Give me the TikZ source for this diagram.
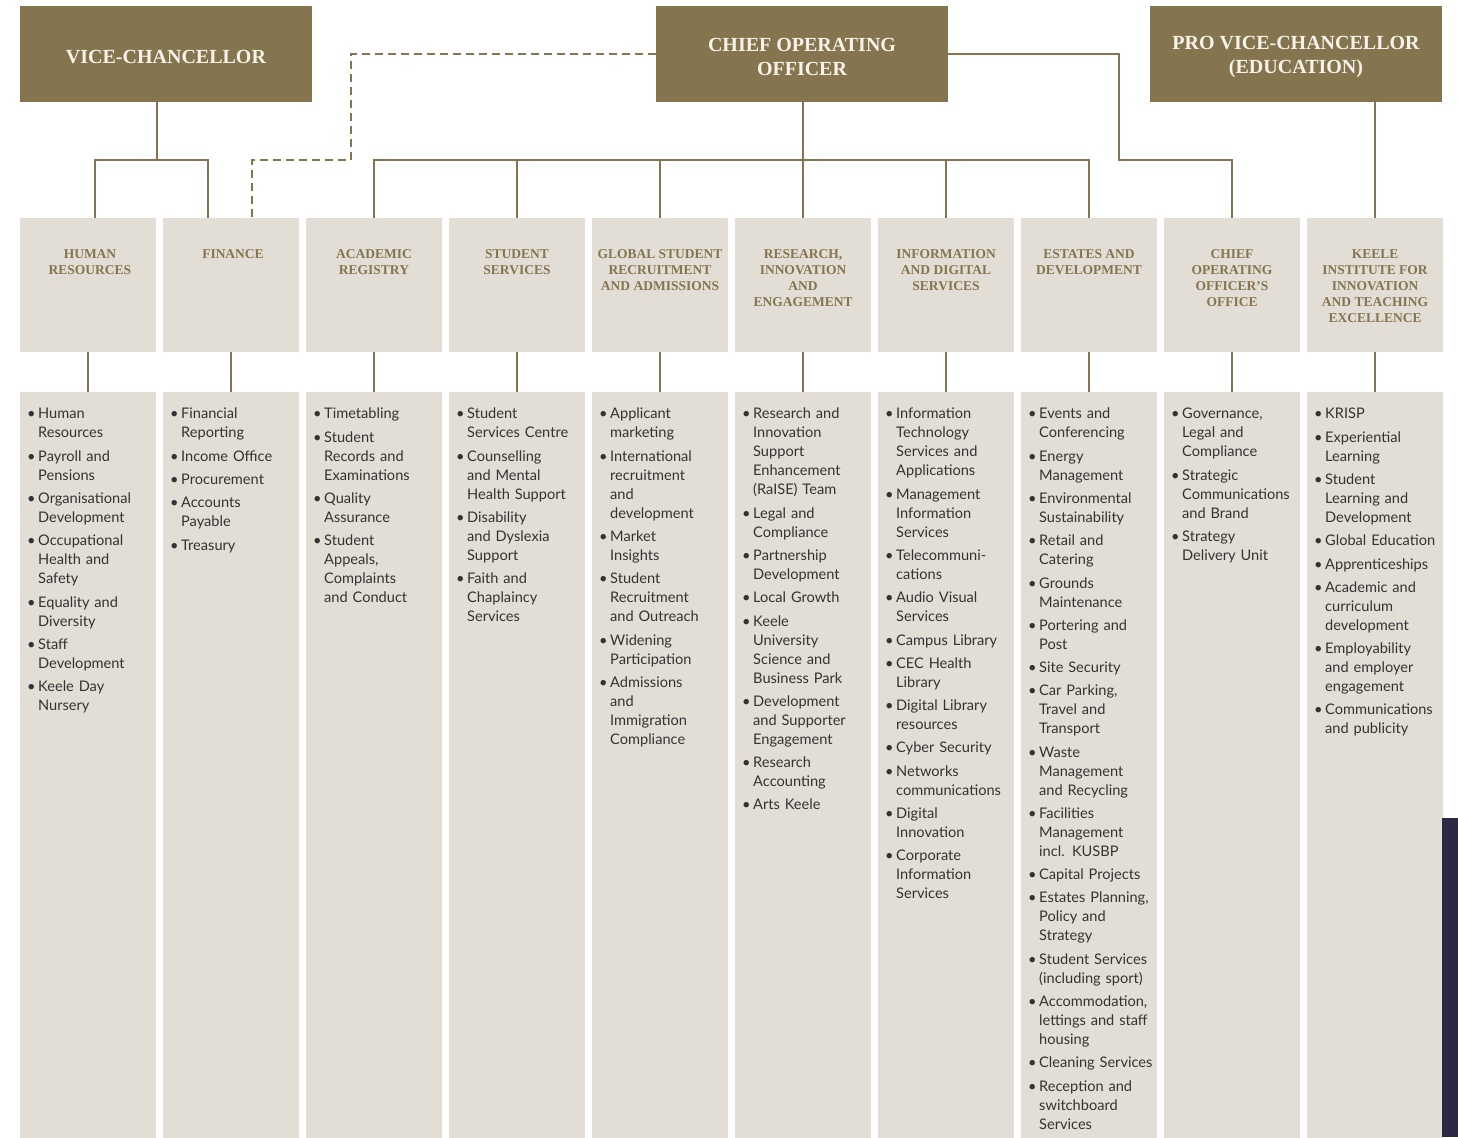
\documentclass[tikz,border=0pt]{standalone}
\usepackage{fontspec}
\setmainfont{Liberation Serif}
\newfontfamily\serfam{Liberation Serif}
\newfontfamily\listfam{Lato}
\usetikzlibrary{calc}
\definecolor{olive}{HTML}{85754E}
\definecolor{paper}{HTML}{E2DED6}
\definecolor{hdrtext}{HTML}{F7F3EA}
\definecolor{listtext}{HTML}{333333}
\definecolor{navybar}{HTML}{2B2A45}
\newcommand{\bi}[1]{\par\hangindent=11pt\hangafter=1\noindent\makebox[11pt][l]{\textbullet}#1\par}
\newcommand{\itemsetup}{\raggedright\setlength{\parskip}{4.27pt}\setlength{\parindent}{0pt}}
\tikzset{
  hdr/.style={fill=olive, minimum width=292pt, minimum height=96pt, anchor=north west,
    inner sep=0pt, outer sep=0pt},
  hdrlabel/.style={inner sep=0pt, text=hdrtext, align=center,
    font=\serfam\bfseries\fontsize{20}{24}\selectfont},
  deptbox/.style={fill=paper, minimum width=136pt, minimum height=134pt, anchor=north west,
    inner sep=0pt, outer sep=0pt},
  listbox/.style={fill=paper, minimum width=136pt, minimum height=746pt, anchor=north west,
    inner sep=0pt, outer sep=0pt},
  dlabel/.style={anchor=north, inner sep=0pt, text=olive, align=center,
    font=\serfam\bfseries\fontsize{13.5}{16}\selectfont},
  itemtext/.style={anchor=north west, inner sep=0pt, text width=175pt, text=listtext,
    font=\listfam\fontsize{14.6}{19}\selectfont},
  conn/.style={draw=olive, line width=2.8pt},
  dashconn/.style={conn, dash pattern=on 8pt off 5pt}
}
\begin{document}
\begin{tikzpicture}[x=1pt,y=-1pt]
\useasboundingbox (0,0) rectangle (1458,1137);
\fill[white] (0,0) rectangle (1458,1137);

% top boxes
\node[hdr] (vc) at (20,6) {};
\node[hdr] (coo) at (656,6) {};
\node[hdr] (pvc) at (1150,6) {};
\node[hdrlabel] (vct) at ($(vc.center)+(0,3)$) {VICE-CHANCELLOR};
\node[hdrlabel] (coot) at ($(coo.center)+(0,3)$) {CHIEF OPERATING\\OFFICER};
\node[hdrlabel] (pvct) at ($(pvc.center)+(0,3)$) {PRO VICE-CHANCELLOR\\(EDUCATION)};

% department boxes and list boxes
\foreach \i in {1,...,10} {
  \node[deptbox] (d\i) at ({20+143*(\i-1)},218) {};
  \node[listbox] (l\i) at ({20+143*(\i-1)},392) {};
  \draw[conn] (d\i.south) -- (l\i.north);
}

% dark side bar
\fill[navybar] (1442,818) rectangle (1458,1137);

% department labels
\node[dlabel] (t1) at ($(d1.north)+(2,31)$) {HUMAN\\RESOURCES};
\node[dlabel] (t2) at ($(d2.north)+(2,31)$) {FINANCE};
\node[dlabel] (t3) at ($(d3.north)+(0,31)$) {ACADEMIC\\REGISTRY};
\node[dlabel] (t4) at ($(d4.north)+(0,31)$) {STUDENT\\SERVICES};
\node[dlabel] (t5) at ($(d5.north)+(0,31)$) {GLOBAL STUDENT\\RECRUITMENT\\AND ADMISSIONS};
\node[dlabel] (t6) at ($(d6.north)+(0,31)$) {RESEARCH,\\INNOVATION\\AND\\ENGAGEMENT};
\node[dlabel] (t7) at ($(d7.north)+(0,31)$) {INFORMATION\\AND DIGITAL\\SERVICES};
\node[dlabel] (t8) at ($(d8.north)+(0,31)$) {ESTATES AND\\DEVELOPMENT};
\node[dlabel] (t9) at ($(d9.north)+(0,31)$) {CHIEF\\OPERATING\\OFFICER’S\\OFFICE};
\node[dlabel] (t10) at ($(d10.north)+(0,31)$) {KEELE\\INSTITUTE FOR\\INNOVATION\\AND TEACHING\\EXCELLENCE};

% connectors from the top
\coordinate (vj) at (157,160);
\draw[conn] (vc.south -| vj) -- (vj);
\draw[conn] ($(d1.north west)+(75,0)$) |- (vj) -| ($(d2.north west)+(45,0)$);

\coordinate (dj) at (351,160);
\draw[dashconn] (coo.west) -| (dj) -| ($(d2.north west)+(89,0)$);

\draw[conn] (coo.south -| d6.north) -- (d6.north);
\draw[conn] (d3.north) |- (coo.south |- dj) -| (d8.north);
\foreach \i in {4,5,7} { \draw[conn] (d\i.north) -- (d\i.north |- dj); }

\coordinate (rj) at (1119,160);
\draw[conn] (coo.east) -| (rj) -| (d9.north);
\draw[conn] (pvc.south -| d10.north) -- (d10.north);

% item lists
\node[itemtext] (i1) at ($(l1.north west)+(7,3.5)$) {\itemsetup
\bi{Human\newline Resources}
\bi{Payroll and\newline Pensions}
\bi{Organisational\newline Development}
\bi{Occupational\newline Health and\newline Safety}
\bi{Equality and\newline Diversity}
\bi{Staff\newline Development}
\bi{Keele Day\newline Nursery}};

\node[itemtext] (i2) at ($(l2.north west)+(7,3.5)$) {\itemsetup
\bi{Financial\newline Reporting}
\bi{Income Office}
\bi{Procurement}
\bi{Accounts\newline Payable}
\bi{Treasury}};

\node[itemtext] (i3) at ($(l3.north west)+(7,3.5)$) {\itemsetup
\bi{Timetabling}
\bi{Student\newline Records and\newline Examinations}
\bi{Quality\newline Assurance}
\bi{Student\newline Appeals,\newline Complaints\newline and Conduct}};

\node[itemtext] (i4) at ($(l4.north west)+(7,3.5)$) {\itemsetup
\bi{Student\newline Services Centre}
\bi{Counselling\newline and Mental\newline Health Support}
\bi{Disability\newline and Dyslexia\newline Support}
\bi{Faith and\newline Chaplaincy\newline Services}};

\node[itemtext] (i5) at ($(l5.north west)+(7,3.5)$) {\itemsetup
\bi{Applicant\newline marketing}
\bi{International\newline recruitment\newline and\newline development}
\bi{Market\newline Insights}
\bi{Student\newline Recruitment\newline and Outreach}
\bi{Widening\newline Participation}
\bi{Admissions\newline and\newline Immigration\newline Compliance}};

\node[itemtext] (i6) at ($(l6.north west)+(7,3.5)$) {\itemsetup
\bi{Research and\newline Innovation\newline Support\newline Enhancement\newline (RaISE) Team}
\bi{Legal and\newline Compliance}
\bi{Partnership\newline Development}
\bi{Local Growth}
\bi{Keele\newline University\newline Science and\newline Business Park}
\bi{Development\newline and Supporter\newline Engagement}
\bi{Research\newline Accounting}
\bi{Arts Keele}};

\node[itemtext] (i7) at ($(l7.north west)+(7,3.5)$) {\itemsetup
\bi{Information\newline Technology\newline Services and\newline Applications}
\bi{Management\newline Information\newline Services}
\bi{Telecommuni-\newline cations}
\bi{Audio Visual\newline Services}
\bi{Campus Library}
\bi{CEC Health\newline Library}
\bi{Digital Library\newline resources}
\bi{Cyber Security}
\bi{Networks\newline communications}
\bi{Digital\newline Innovation}
\bi{Corporate\newline Information\newline Services}};

\node[itemtext] (i8) at ($(l8.north west)+(7,3.5)$) {\itemsetup
\bi{Events and\newline Conferencing}
\bi{Energy\newline Management}
\bi{Environmental\newline Sustainability}
\bi{Retail and\newline Catering}
\bi{Grounds\newline Maintenance}
\bi{Portering and\newline Post}
\bi{Site Security}
\bi{Car Parking,\newline Travel and\newline Transport}
\bi{Waste\newline Management\newline and Recycling}
\bi{Facilities\newline Management\newline incl. KUSBP}
\bi{Capital Projects}
\bi{Estates Planning,\newline Policy and\newline Strategy}
\bi{Student Services\newline (including sport)}
\bi{Accommodation,\newline lettings and staff\newline housing}
\bi{Cleaning Services}
\bi{Reception and\newline switchboard\newline Services}};

\node[itemtext] (i9) at ($(l9.north west)+(7,3.5)$) {\itemsetup
\bi{Governance,\newline Legal and\newline Compliance}
\bi{Strategic\newline Communications\newline and Brand}
\bi{Strategy\newline Delivery Unit}};

\node[itemtext] (i10) at ($(l10.north west)+(7,3.5)$) {\itemsetup
\bi{KRISP}
\bi{Experiential\newline Learning}
\bi{Student\newline Learning and\newline Development}
\bi{Global Education}
\bi{Apprenticeships}
\bi{Academic and\newline curriculum\newline development}
\bi{Employability\newline and employer\newline engagement}
\bi{Communications\newline and publicity}};
\end{tikzpicture}
\end{document}
